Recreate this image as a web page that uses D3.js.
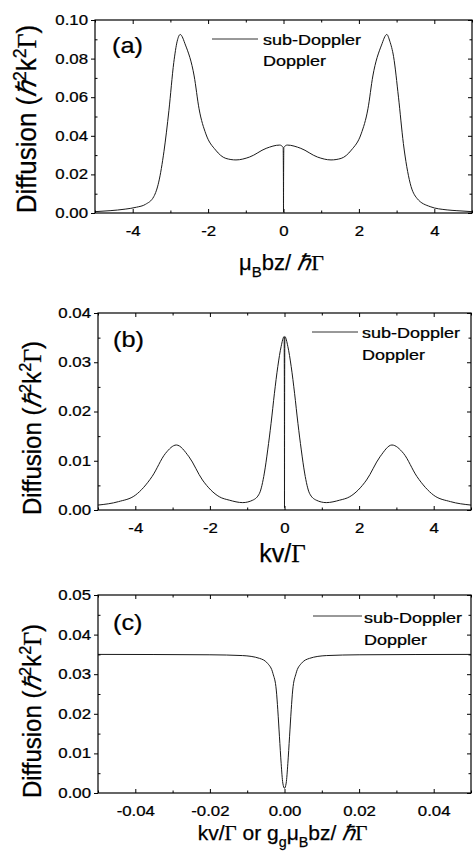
<!DOCTYPE html>
<html>
<head>
<meta charset="utf-8">
<script src="https://cdn.jsdelivr.net/npm/d3@7/dist/d3.min.js"></script>
<style>
  body { margin: 0; background: #fff; }
  svg { display: block; font-family: Arial, "Liberation Sans", sans-serif; }
  svg text { stroke: #000; stroke-width: 0.25px; }
</style>
</head>
<body>
<svg width="475" height="859"></svg>
<script>
// ---- data ----
// (a) diffusion vs mu_B b z / hbar Gamma
const xA = [-5, -4.6, -4.2, -3.9, -3.66, -3.44, -3.31, -3.17, -3.04, -2.91, -2.82, -2.74, -2.6, -2.37, -2.24, -2.06, -1.8, -1.53, -1.26, -0.9, -0.46, -0.1, -0.01, -0.002, 0, 0.002, 0.01, 0.1, 0.46, 0.9, 1.26, 1.53, 1.8, 2.06, 2.24, 2.37, 2.6, 2.74, 2.82, 2.92, 3.05, 3.18, 3.36, 3.54, 3.89, 4.34, 4.6, 5];
const yA = [0.0007, 0.0012, 0.002, 0.003, 0.0045, 0.0085, 0.016, 0.032, 0.053, 0.078, 0.089, 0.0925, 0.087, 0.071, 0.054, 0.041, 0.0326, 0.0283, 0.0275, 0.029, 0.0335, 0.0352, 0.034, 0.017, 0.0005, 0.017, 0.034, 0.0352, 0.0335, 0.029, 0.0275, 0.0283, 0.0326, 0.041, 0.054, 0.071, 0.087, 0.0925, 0.089, 0.081, 0.060, 0.036, 0.0154, 0.0076, 0.0033, 0.0016, 0.0012, 0.0007];

// (b) diffusion vs kv / Gamma
const xB = [-5, -4.45, -4.0, -3.55, -3.19, -2.9, -2.56, -2.2, -1.75, -1.48, -1.12, -0.85, -0.67, -0.54, -0.45, -0.36, -0.27, -0.18, -0.09, -0.01, -0.002, 0, 0.002, 0.01, 0.09, 0.18, 0.27, 0.36, 0.45, 0.54, 0.67, 0.85, 1.12, 1.48, 1.75, 2.2, 2.56, 2.88, 3.19, 3.55, 4.0, 4.45, 5];
const yB = [0.001, 0.0017, 0.003, 0.0068, 0.0115, 0.0132, 0.0108, 0.0061, 0.0027, 0.002, 0.0015, 0.002, 0.0034, 0.0075, 0.0122, 0.0176, 0.0237, 0.0291, 0.0332, 0.0352, 0.018, 0.0005, 0.018, 0.0352, 0.0332, 0.0291, 0.0237, 0.0176, 0.0122, 0.0075, 0.0034, 0.002, 0.0015, 0.002, 0.0027, 0.0061, 0.0108, 0.0132, 0.0115, 0.0068, 0.003, 0.0017, 0.001];

// (c) zoom around zero
const xC = [-0.05, -0.02, -0.0112, -0.0067, -0.0045, -0.0031, -0.0022, -0.0018, -0.00135, -0.0009, -0.00045, 0, 0.00045, 0.0009, 0.00135, 0.0018, 0.0022, 0.0031, 0.0045, 0.0067, 0.0112, 0.02, 0.05];
const yC = [0.035, 0.0349, 0.0347, 0.034, 0.0327, 0.0302, 0.026, 0.021, 0.0142, 0.0075, 0.0025, 0.0012, 0.0025, 0.0075, 0.0142, 0.021, 0.026, 0.0302, 0.0327, 0.034, 0.0347, 0.0349, 0.035];

const xTicksAB = [-4, -2, 0, 2, 4];
const xMinorAB = [-5, -3, -1, 1, 3, 5];
const xTicksC = [-0.04, -0.02, 0, 0.02, 0.04];
const xMinorC = [-0.05, -0.03, -0.01, 0.01, 0.03, 0.05];
const yTicksA = [0, 0.02, 0.04, 0.06, 0.08, 0.10];
const yMinorA = [0.01, 0.03, 0.05, 0.07, 0.09];
const yTicksB = [0, 0.01, 0.02, 0.03, 0.04];
const yMinorB = [0.005, 0.015, 0.025, 0.035];
const yTicksC = [0, 0.01, 0.02, 0.03, 0.04, 0.05];
const yMinorC = [0.005, 0.015, 0.025, 0.035, 0.045];

const legendNames = ["sub-Doppler", "Doppler"];
const panelLetters = ["(a)", "(b)", "(c)"];

const SERIF = "'Liberation Serif','Times New Roman',serif";
const yTitleParts = [
  { t: "Diffusion (" }, { t: "\u210F", serif: true, italic: true }, { t: "2", sup: true },
  { t: "k" }, { t: "2", sup: true }, { t: "\u0393", serif: true }, { t: ")" }
];
const xTitles = [
  [{ t: "\u03BC" }, { t: "B", sub: true }, { t: "bz/ " }, { t: "\u210F", serif: true, italic: true }, { t: "\u0393", serif: true }],
  [{ t: "kv/" }, { t: "\u0393", serif: true }],
  [{ t: "kv/" }, { t: "\u0393", serif: true }, { t: " or g" }, { t: "g", sub: true }, { t: "\u03BC" }, { t: "B", sub: true },
   { t: "bz/ " }, { t: "\u210F", serif: true, italic: true }, { t: "\u0393", serif: true }]
];

const svg = d3.select("svg");
const SX = 1.2; // the scanned lettering is wider than plain Arial

function richText(parent, parts, size) {
  const t = parent.append("text").attr("font-size", size);
  let shift = 0;
  parts.forEach(p => {
    const target = p.sub ? size * 0.32 : p.sup ? -size * 0.38 : 0;
    const s = t.append("tspan").text(p.t).attr("dy", target - shift);
    shift = target;
    if (p.sub || p.sup) s.attr("font-size", size * 0.68);
    if (p.serif) s.attr("font-family", SERIF);
    if (p.italic) s.attr("font-style", "italic");
  });
  return t;
}

const fmtInt = d => String(d);
const fmt2 = d => Math.abs(d) < 1e-9 ? "0.00" : d.toFixed(2);

const panels = [
  {
    xs: xA, ys: yA, xDomain: [-5, 5], yDomain: [0, 0.10],
    xTicks: xTicksAB, xMinor: xMinorAB, yTicks: yTicksA, yMinor: yMinorA, xFmt: fmtInt,
    box: { left: 95, right: 472, top: 20, bottom: 213 },
    legend: { x1: 212, x2: 258, y: 39, tx: 263, b1: 45, b2: 66 },
    letter: { x: 112, y: 53 },
    xTitle: { y: 270, size: 22 }, yTitle: { x: 36, y: 119, size: 26 }
  },
  {
    xs: xB, ys: yB, xDomain: [-5, 5], yDomain: [0, 0.04],
    xTicks: xTicksAB, xMinor: xMinorAB, yTicks: yTicksB, yMinor: yMinorB, xFmt: fmtInt,
    box: { left: 98, right: 471, top: 313, bottom: 510 },
    legend: { x1: 312, x2: 358, y: 332, tx: 362, b1: 338, b2: 360 },
    letter: { x: 113, y: 347 },
    xTitle: { y: 562, size: 25 }, yTitle: { x: 41, y: 428, size: 24 }
  },
  {
    xs: xC, ys: yC, xDomain: [-0.05, 0.05], yDomain: [0, 0.05],
    xTicks: xTicksC, xMinor: xMinorC, yTicks: yTicksC, yMinor: yMinorC, xFmt: fmt2,
    box: { left: 98, right: 471, top: 595, bottom: 793 },
    legend: { x1: 313, x2: 362, y: 616, tx: 364, b1: 623, b2: 645 },
    letter: { x: 113, y: 630 },
    xTitle: { y: 840, size: 21 }, yTitle: { x: 41, y: 711, size: 24 }
  }
];

panels.forEach((p, i) => {
  const b = p.box;
  const x = d3.scaleLinear().domain(p.xDomain).range([b.left, b.right]);
  const y = d3.scaleLinear().domain(p.yDomain).range([b.bottom, b.top]);
  const g = svg.append("g");

  // curve
  const data = p.xs.map((v, k) => [v, p.ys[k]]);
  g.append("path")
    .datum(data)
    .attr("fill", "none")
    .attr("stroke", "#1a1a1a")
    .attr("stroke-width", 1)
    .attr("d", d3.line().x(d => x(d[0])).y(d => y(d[1])).curve(d3.curveMonotoneX));

  // minor ticks (inward) on all four sides
  const minor = [
    [d3.axisBottom(x).tickValues(p.xMinor), b.bottom, "y"],
    [d3.axisTop(x).tickValues(p.xMinor), b.top, "y"],
    [d3.axisLeft(y).tickValues(p.yMinor), b.left, "x"],
    [d3.axisRight(y).tickValues(p.yMinor), b.right, "x"]
  ];
  minor.forEach(([ax, pos, dir]) => {
    const a = g.append("g")
      .attr("transform", dir === "y" ? `translate(0,${pos})` : `translate(${pos},0)`)
      .call(ax.tickSize(-2.5).tickSizeOuter(0).tickFormat(""));
    a.select(".domain").remove();
  });

  // major ticks on top and right (inward, no labels)
  g.append("g").attr("transform", `translate(0,${b.top})`)
    .call(d3.axisTop(x).tickValues(p.xTicks).tickSize(-4).tickSizeOuter(0).tickFormat(""))
    .select(".domain").remove();
  g.append("g").attr("transform", `translate(${b.right},0)`)
    .call(d3.axisRight(y).tickValues(p.yTicks).tickSize(-4).tickSizeOuter(0).tickFormat(""))
    .select(".domain").remove();

  // bottom axis: inward ticks, labels below
  const xAx = g.append("g").attr("transform", `translate(0,${b.bottom})`)
    .call(d3.axisBottom(x).tickValues(p.xTicks).tickSize(-4).tickSizeOuter(0).tickPadding(13).tickFormat(p.xFmt));
  xAx.select(".domain").remove();
  xAx.selectAll("text").attr("font-size", 14).attr("font-family", null).attr("fill", "#000")
    .attr("transform", `scale(${SX},1)`).attr("x", 0);

  // left axis: outward ticks
  const yAx = g.append("g").attr("transform", `translate(${b.left},0)`)
    .call(d3.axisLeft(y).tickValues(p.yTicks).tickSize(4).tickSizeOuter(0).tickPadding(3).tickFormat(d3.format(".2f")));
  yAx.select(".domain").remove();
  yAx.selectAll("text").attr("font-size", 14).attr("font-family", null).attr("fill", "#000")
    .attr("transform", `scale(${SX},1)`).attr("x", -7 / SX);

  // frame
  g.append("rect")
    .attr("x", b.left).attr("y", b.top)
    .attr("width", b.right - b.left).attr("height", b.bottom - b.top)
    .attr("fill", "none").attr("stroke", "#000").attr("stroke-width", 1.2);

  // legend
  const L = p.legend;
  g.append("line").attr("x1", L.x1).attr("x2", L.x2).attr("y1", L.y).attr("y2", L.y)
    .attr("stroke", "#333").attr("stroke-width", 1);
  [L.b1, L.b2].forEach((by, k) => {
    g.append("text").attr("transform", `translate(${L.tx},${by}) scale(${SX},1)`)
      .attr("font-size", 15).text(legendNames[k]);
  });

  // panel letter
  g.append("text").attr("transform", `translate(${p.letter.x},${p.letter.y}) scale(1.15,1)`)
    .attr("font-size", 22).text(panelLetters[i]);

  // axis titles
  richText(g, xTitles[i], p.xTitle.size)
    .attr("text-anchor", "middle")
    .attr("transform", `translate(${(b.left + b.right) / 2 - 2},${p.xTitle.y})`);
  richText(g, yTitleParts, p.yTitle.size)
    .attr("text-anchor", "middle")
    .attr("transform", `translate(${p.yTitle.x},${p.yTitle.y}) scale(1.05,1) rotate(-90)`);
});
</script>
</body>
</html>
